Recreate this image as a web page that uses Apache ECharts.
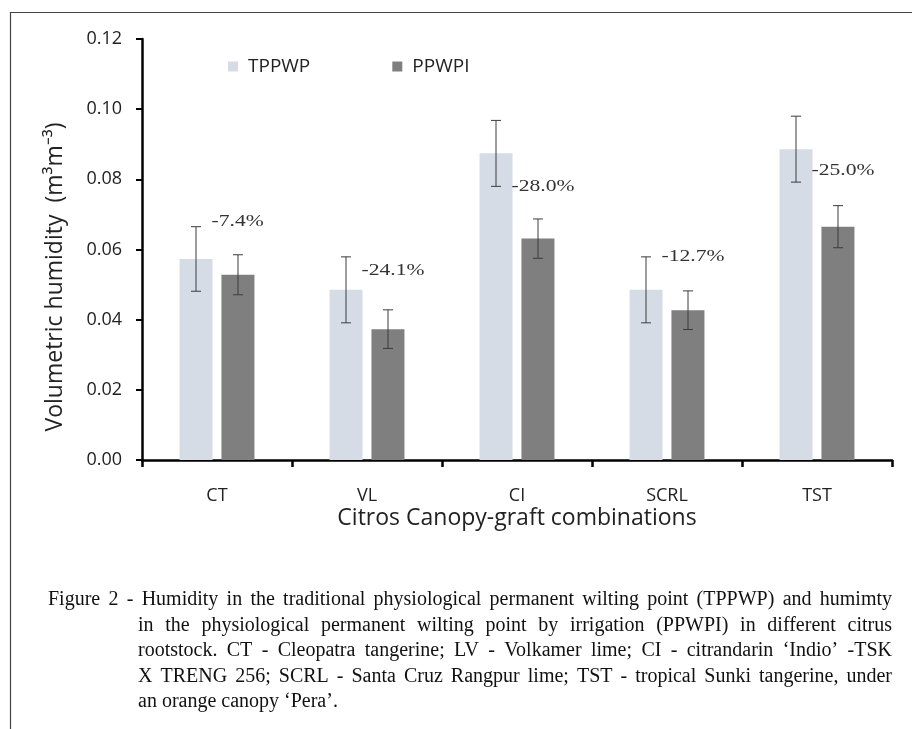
<!DOCTYPE html>
<html>
<head>
<meta charset="utf-8">
<script src="https://cdn.jsdelivr.net/npm/echarts@6/dist/echarts.min.js"></script>
<style>
html,body{margin:0;padding:0;background:#fff;}
#c2{width:912px;height:729px;}
</style>
</head>
<body>
<div id="c2"></div>
<script type="text/javascript">
// data
var categories = ['CT', 'VL', 'CI', 'SCRL', 'TST'];
var tppwp = [0.0573, 0.0485, 0.0874, 0.0485, 0.0886];
var ppwpi = [0.0528, 0.0373, 0.0631, 0.0427, 0.0665];
var errTppwp = [0.0092, 0.0094, 0.0094, 0.0094, 0.0094];
var errPpwpi = [0.0057, 0.0055, 0.0056, 0.0055, 0.0060];
var diffLabels = ['-7.4%', '-24.1%', '-28.0%', '-12.7%', '-25.0%'];
var diffLabelAt = [0.0678, 0.0539, 0.0778, 0.0579, 0.0825];

var caption = [
  'Figure 2 - Humidity in the traditional physiological permanent wilting point (TPPWP) and humimty',
  'in the physiological permanent wilting point by irrigation (PPWPI) in different citrus',
  'rootstock. CT - Cleopatra tangerine; LV - Volkamer lime; CI - citrandarin \u2018Indio\u2019 -TSK',
  'X TRENG 256; SCRL - Santa Cruz Rangpur lime; TST - tropical Sunki tangerine, under',
  'an orange canopy \u2018Pera\u2019.'
];

var barW = 33;
var barShift = 21; // half distance between the two bars of a group
var capFont = '20px "Liberation Serif"';

// caption words, spread out like justified text
var ctx = document.createElement('canvas').getContext('2d');
ctx.font = capFont;
function captionGraphics(){
  var out = [];
  var right = 892, top0 = 600, lh = 25.5;
  for(var i=0; i<caption.length; ++i){
    var left = i === 0 ? 48 : 138;
    var y = top0 + i*lh;
    if(i === caption.length-1){
      out.push({type:'text', x:left, y:y, style:{text:caption[i], font:capFont, fill:'#111', verticalAlign:'middle'}});
      continue;
    }
    var words = caption[i].split(' ');
    var sum = 0;
    for(var k=0; k<words.length; ++k){ sum += ctx.measureText(words[k]).width; }
    var gap = (right - left - sum)/(words.length-1);
    var x = left;
    for(var k=0; k<words.length; ++k){
      out.push({type:'text', x:x, y:y, style:{text:words[k], font:capFont, fill:'#111', verticalAlign:'middle'}});
      x += ctx.measureText(words[k]).width + gap;
    }
  }
  return out;
}

function errItem(vals, errs, side){
  return function(params, api){
    var i = params.dataIndex;
    var c = api.coord([i, vals[i]]);
    var x = c[0] + side*barShift;
    var hi = api.coord([i, vals[i] + errs[i]])[1];
    var lo = api.coord([i, vals[i] - errs[i]])[1];
    var st = {stroke:'#3c3c3c', lineWidth:1};
    return {type:'group', children:[
      {type:'line', shape:{x1:x, y1:hi, x2:x, y2:lo}, style:st},
      {type:'line', shape:{x1:x-5, y1:hi, x2:x+5, y2:hi}, style:st},
      {type:'line', shape:{x1:x-5, y1:lo, x2:x+5, y2:lo}, style:st}
    ]};
  };
}

var chart = echarts.init(document.getElementById('c2'));
var option = {
  animation:false,
  backgroundColor:'#fff',
  grid:{left:142, right:20, top:39, bottom:269},
  legend:{
    left:223, top:52,
    itemWidth:10, itemHeight:10, itemGap:82,
    icon:'rect',
    textStyle:{fontFamily:'Open Sans', fontSize:19, color:'#222', padding:[0,0,0,5]},
    data:['TPPWP','PPWPI']
  },
  xAxis:{
    type:'category',
    data:categories,
    axisLine:{lineStyle:{color:'#000', width:2.5}},
    axisTick:{show:true, length:7, lineStyle:{color:'#000', width:2.5}},
    axisLabel:{margin:27, color:'#222', fontFamily:'Open Sans', fontSize:18}
  },
  yAxis:{
    type:'value', min:0, max:0.12, interval:0.02,
    axisLine:{show:true, lineStyle:{color:'#000', width:2.5}},
    axisTick:{show:true, length:6, lineStyle:{color:'#000', width:2}},
    splitLine:{show:false},
    axisLabel:{
      margin:20, color:'#222', fontFamily:'Open Sans', fontSize:18,
      formatter:function(v){ return v.toFixed(2); }
    }
  },
  series:[
    {name:'TPPWP', type:'bar', data:tppwp, barWidth:barW, barGap:'27%', itemStyle:{color:'#d6dce5'}},
    {name:'PPWPI', type:'bar', data:ppwpi, barWidth:barW, itemStyle:{color:'#7f7f7f'}},
    {type:'custom', data:tppwp, renderItem:errItem(tppwp, errTppwp, -1), z:5},
    {type:'custom', data:ppwpi, renderItem:errItem(ppwpi, errPpwpi, 1), z:5},
    {type:'custom', data:diffLabelAt, z:6,
      renderItem:function(params, api){
        var i = params.dataIndex;
        var c = api.coord([i, diffLabelAt[i]]);
        // the figure's labels are stretched sideways
        return {type:'text', x:c[0] - barShift + barW/2 - 1, y:c[1], scaleX:1.35,
          style:{text:diffLabels[i], font:'16px "Liberation Serif"', fill:'#333', verticalAlign:'middle'}};
      }
    }
  ],
  graphic:[
    {type:'polyline', shape:{points:[[10.5, 740], [10.5, 12.5], [912, 12.5]]}, style:{fill:'none', stroke:'#444', lineWidth:1.2}, silent:true},
    {type:'text', x:55, y:277, rotation:Math.PI/2, originX:0, originY:0,
      style:{text:'Volumetric humidity  (m\u00b3m\u207b\u00b3)', font:'23px "Open Sans"', fill:'#222', align:'center', verticalAlign:'middle'}},
    {type:'text', x:517, y:518,
      style:{text:'Citros Canopy-graft combinations', font:'23px "Open Sans"', fill:'#222', align:'center', verticalAlign:'middle'}}
  ].concat(captionGraphics())
};
chart.setOption(option);
</script>
</body>
</html>
